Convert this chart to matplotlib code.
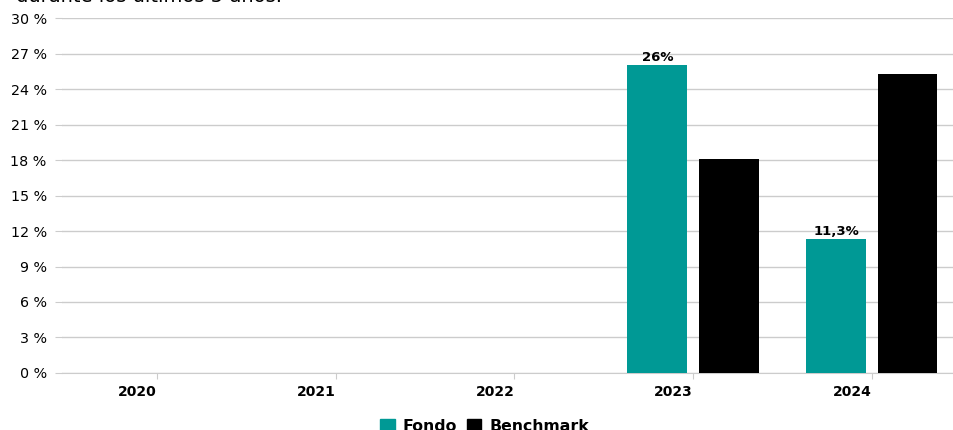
import matplotlib
matplotlib.use("Agg")
import matplotlib.pyplot as plt
import numpy as np

plt.rcParams['font.family'] = ['DejaVu Sans']

years = ['2020', '2021', '2022', '2023', '2024']
fondo = [np.nan, np.nan, np.nan, 26.0, 11.3]
bench = [np.nan, np.nan, np.nan, 18.1, 25.3]
fondo_labels = ['', '', '', '26%', '11,3%']
yticks = [0, 3, 6, 9, 12, 15, 18, 21, 24, 27, 30]

teal = '#009995'

fig = plt.figure(figsize=(9.54, 4.30), dpi=100)
ax = fig.add_axes([0.065, 0.1326, 0.935, 0.8254])

x = np.arange(len(years))
w = 0.335
ax.bar(x - 0.2, fondo, w, color=teal, zorder=3)
ax.bar(x + 0.2, bench, w, color='black', zorder=3)

for xi, v, lab in zip(x, fondo, fondo_labels):
    if lab:
        ax.text(xi - 0.2, v + 0.1, lab, ha='center', va='bottom',
                fontsize=9.5, fontweight='bold', zorder=4)

ax.set_ylim(0, 30)
ax.set_xlim(-0.53, 4.46)
ax.set_yticks(yticks)
ax.set_yticklabels(['%d %%' % t for t in yticks], fontsize=10.3)
ax.set_xticks(x)
ax.set_xticklabels(years, fontsize=10, fontweight='bold', ha='right')

ax.grid(axis='y', color='#cccccc', linewidth=1, zorder=0)
for s in ['top', 'right', 'left']:
    ax.spines[s].set_visible(False)
ax.spines['bottom'].set_color('#cccccc')
ax.tick_params(axis='y', length=5, color='#cccccc', pad=6)
ax.tick_params(axis='x', length=4, color='#cccccc', pad=5)

handles = [plt.Rectangle((0, 0), 1, 1, color=teal),
           plt.Rectangle((0, 0), 1, 1, color='black')]
fig.legend(handles, ['Fondo', 'Benchmark'], loc='center',
           bbox_to_anchor=(0.508, 0.008), ncol=2, frameon=False,
           prop={'size': 11.3, 'weight': 'bold'}, handlelength=0.9,
           handleheight=0.9, handletextpad=0.5, columnspacing=0.65)

# titulo cortado arriba, como en la imagen original
fig.text(16 / 954, 0.996, 'durante los últimos 5 años.', fontsize=14,
         ha='left', va='baseline')

fig.savefig('out.png', dpi=100)
